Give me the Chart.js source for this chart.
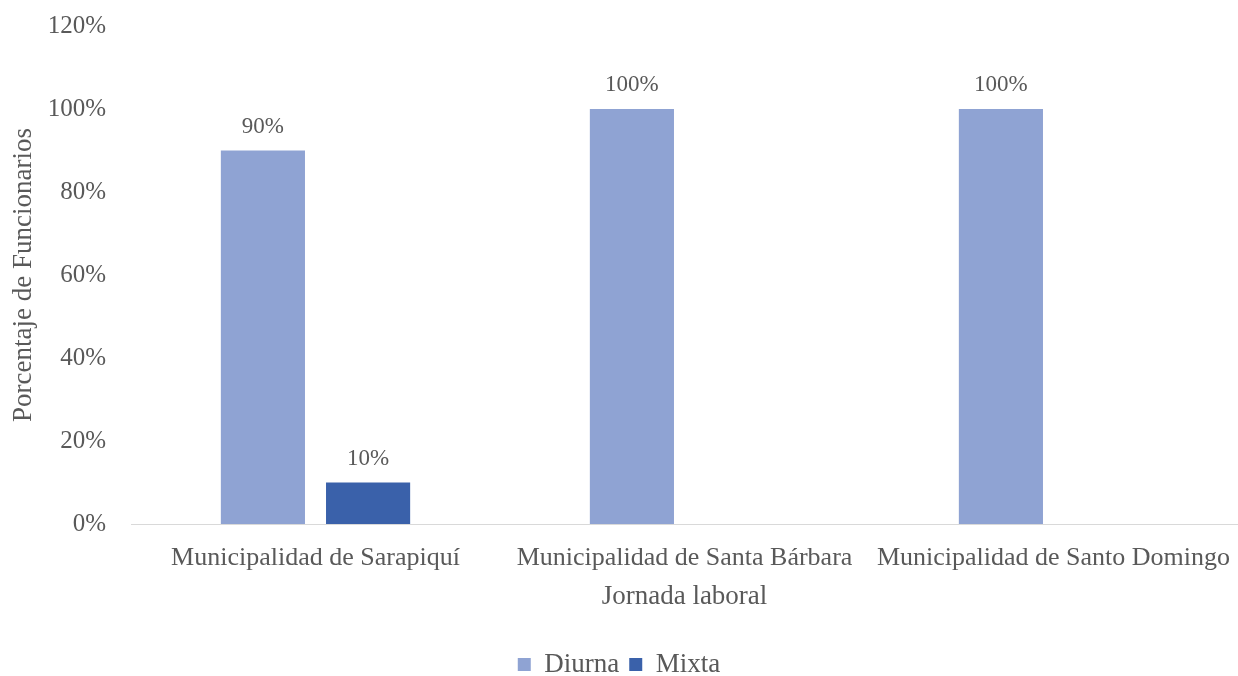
<!DOCTYPE html>
<html>
<head>
<meta charset="utf-8">
<script src="https://cdn.jsdelivr.net/npm/chart.js@4"></script>
<style>
  html, body { margin: 0; padding: 0; background: #fff; }
  #wrap { width: 1238px; height: 676px; }
</style>
</head>
<body>
<div id="wrap"><canvas id="chart"></canvas></div>
<script>
// categories and series
var categories = ['Municipalidad de Sarapiquí', 'Municipalidad de Santa Bárbara', 'Municipalidad de Santo Domingo'];
var diurna = [90, 100, 100];
var mixta = [10, null, null];
var yTicks = [0, 20, 40, 60, 80, 100, 120];

var textColor = '#595959';
var fontFamily = '"Liberation Serif", "Times New Roman", serif';

/* draws the value above each bar, like the data labels in the original */
var valueLabels = {
  id: 'valueLabels',
  afterDatasetsDraw: function(chart) {
    var ctx = chart.ctx;
    ctx.save();
    ctx.font = '23px ' + fontFamily;
    ctx.fillStyle = textColor;
    ctx.textAlign = 'center';
    ctx.textBaseline = 'middle';
    chart.data.datasets.forEach(function(ds, i) {
      var meta = chart.getDatasetMeta(i);
      meta.data.forEach(function(bar, j) {
        var v = ds.data[j];
        if (v === null || v === undefined) return;
        ctx.fillText(v + '%', bar.x, bar.y - 24);
      });
    });
    ctx.restore();
  }
};

var ctx = document.getElementById('chart').getContext('2d');
var myChart = new Chart(ctx, {
  type: 'bar',
  data: {
    labels: categories,
    datasets: [{
      label: 'Diurna',
      data: diurna,
      backgroundColor: '#8FA3D3'
    }, {
      label: 'Mixta',
      data: mixta,
      backgroundColor: '#3A61AA'
    }]
  },
  plugins: [valueLabels],
  options: {
    responsive: true,
    maintainAspectRatio: false,
    animation: false,
    categoryPercentage: 0.57,
    barPercentage: 0.8,
    layout: { padding: { top: 26, right: 0, left: 0, bottom: -12 } },
    plugins: {
      legend: {
        position: 'bottom',
        labels: {
          boxWidth: 13,
          boxHeight: 13,
          color: textColor,
          font: { family: fontFamily, size: 27 }
        }
      },
      tooltip: { enabled: false }
    },
    scales: {
      x: {
        grid: { display: false },
        border: { color: '#D9D9D9', width: 1 },
        ticks: { color: textColor, font: { family: fontFamily, size: 26 }, padding: 11, maxRotation: 0 },
        title: {
          display: true,
          text: 'Jornada laboral',
          color: textColor,
          font: { family: fontFamily, size: 27 },
          padding: { top: 0, bottom: 28 }
        },
        afterFit: function(scale) {
          scale.height = 117;
          scale.paddingLeft = 0;
          scale.paddingRight = 0;
        }
      },
      y: {
        min: 0,
        max: 120,
        afterBuildTicks: function(scale) {
          scale.ticks = yTicks.map(function(v) { return { value: v }; });
        },
        grid: { display: false },
        border: { display: false },
        ticks: {
          color: textColor,
          font: { family: fontFamily, size: 25 },
          padding: 17,
          callback: function(v) { return v + '%'; }
        },
        title: {
          display: true,
          text: 'Porcentaje de Funcionarios',
          color: textColor,
          font: { family: fontFamily, size: 27 },
          padding: { top: 8, bottom: 0 }
        },
        afterFit: function(scale) {
          scale.width = 131;
          scale.paddingTop = 0;
          scale.paddingBottom = 0;
        }
      }
    }
  }
});
</script>
</body>
</html>
